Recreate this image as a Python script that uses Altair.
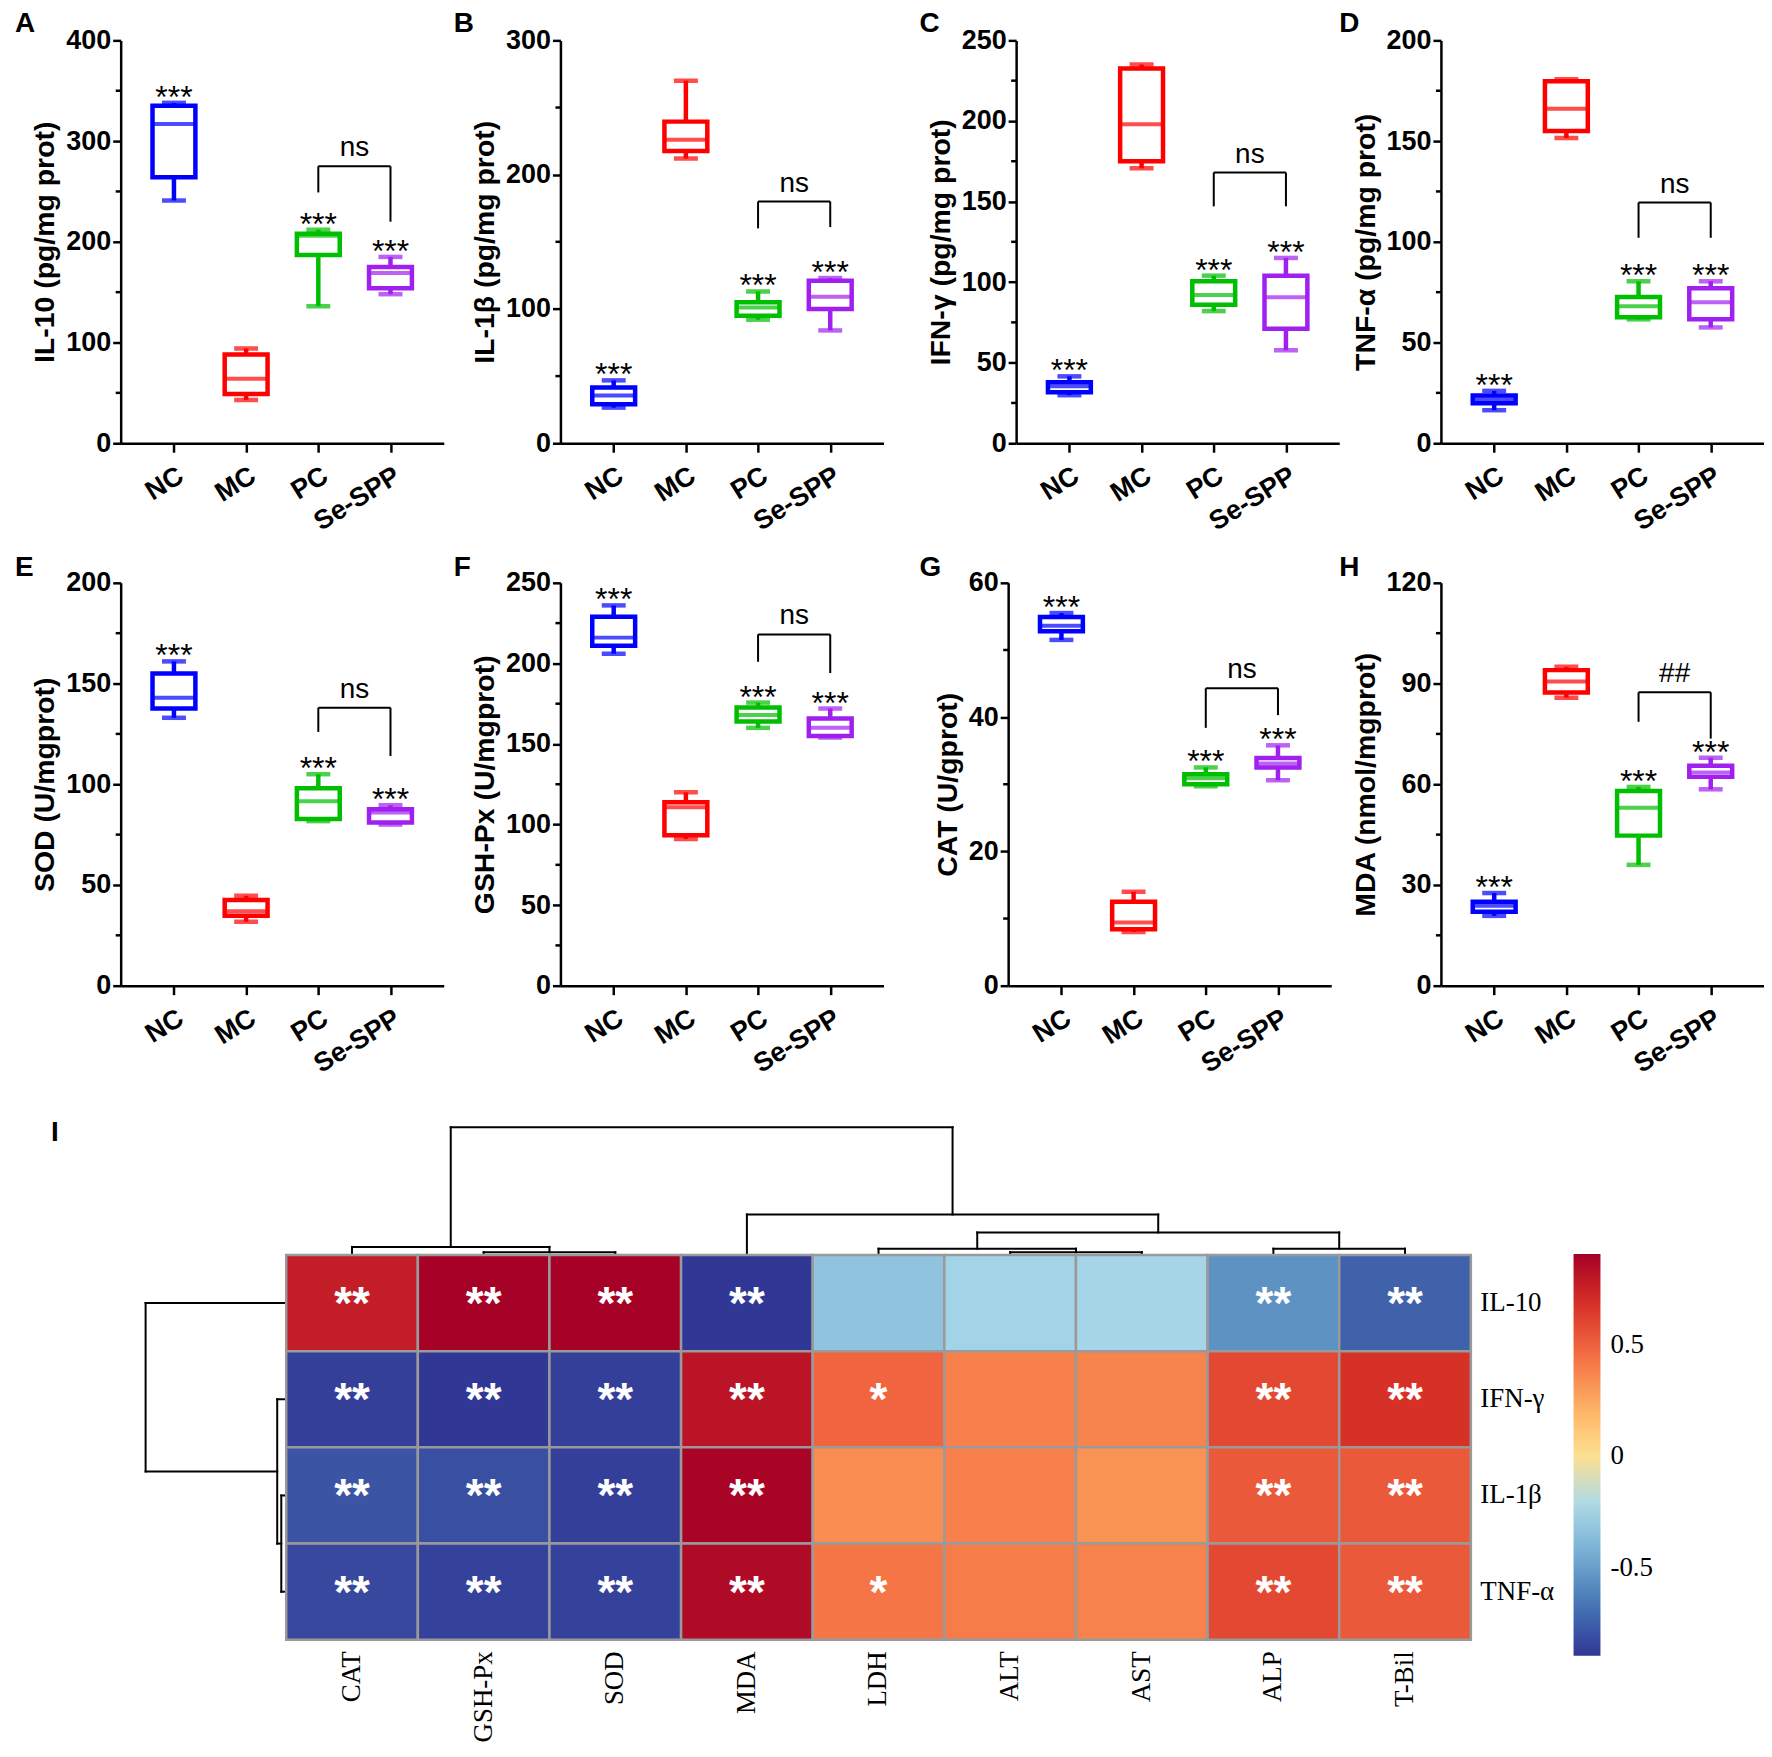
import altair as alt
import pandas as pd

# ---------------- data ----------------
GROUPS = ["NC", "MC", "PC", "Se-SPP"]
GROUP_COLORS = ["#0000FF", "#FF0000", "#00BE00", "#A020F0"]
GROUP_STARS = ["***", "", "***", "***"]

# five-number summaries per group (NC, MC, PC, Se-SPP): [min, q1, median, q3, max]
IL10 = [[241, 264, 317, 335, 338], [43, 49, 64, 88, 94], [136, 187, 206, 208, 212], [148, 154, 169, 175, 185]]
IL1B = [[26.5, 29, 35.6, 41.5, 46.8], [212, 217.6, 226, 239.5, 270], [92, 95, 101, 105, 113], [84, 100, 109, 121, 123]]
IFNG = [[29.8, 31.6, 35.3, 37.8, 41.5], [170.6, 175, 198, 232.6, 235], [82, 86, 92, 100.5, 104], [57.7, 71, 90.6, 104, 115]]
TNFA = [[16.4, 19.8, 21.8, 23.7, 26], [151.5, 155, 166, 179.7, 180.7], [61.5, 62.6, 68, 72.6, 80.4], [57.5, 61.5, 70, 77, 80.4]]
SOD = [[133, 137.6, 143, 155, 161], [31.7, 34.7, 37, 42.6, 44.6], [81.7, 82.7, 91.6, 98, 105], [80, 81, 86, 87.6, 89.6]]
GSHPX = [[206, 211, 216, 229, 236], [91, 93.4, 110.8, 113.9, 120], [160, 164, 168, 172.6, 175.7], [154, 155, 160, 165.8, 172]]
CAT = [[51.5, 52.8, 53.6, 54.9, 55.5], [8, 8.4, 9.4, 12.5, 14], [29.7, 30, 30.9, 31.5, 32.5], [30.6, 32.5, 33.1, 33.9, 35.8]]
MDA = [[20.8, 22, 23.8, 25, 27.6], [85.8, 87.3, 90.6, 94, 95], [36, 44.7, 53, 58, 59.2], [58.5, 62.2, 63.5, 65.5, 67.9]]

# PC vs Se-SPP bracket: [top, left leg end, right leg end]
IL10_BR = [275, 249, 220]
IL1B_BR = [180, 160, 161]
IFNG_BR = [168, 147, 147]
TNFA_BR = [119.5, 102, 102]
SOD_BR = [138, 126, 114]
GSHPX_BR = [218, 201, 194]
CAT_BR = [44.3, 38.4, 40.3]
MDA_BR = [87.4, 78.6, 73.6]

# heatmap (correlation)
HM_COLS = ["CAT", "GSH-Px", "SOD", "MDA", "LDH", "ALT", "AST", "ALP", "T-Bil"]
HM_ROWS = ["IL-10", "IFN-γ", "IL-1β", "TNF-α"]
R_IL10 = [0.77, 0.90, 0.90, -0.89, -0.33, -0.25, -0.24, -0.55, -0.735]
R_IFNG = [-0.86, -0.89, -0.86, 0.81, 0.49, 0.39, 0.38, 0.59, 0.68]
R_IL1B = [-0.785, -0.80, -0.86, 0.89, 0.35, 0.39, 0.325, 0.53, 0.53]
R_TNFA = [-0.83, -0.85, -0.85, 0.86, 0.43, 0.40, 0.385, 0.59, 0.53]
S_IL10 = ["**", "**", "**", "**", "", "", "", "**", "**"]
S_IFNG = ["**", "**", "**", "**", "*", "", "", "**", "**"]
S_IL1B = ["**", "**", "**", "**", "", "", "", "**", "**"]
S_TNFA = ["**", "**", "**", "**", "*", "", "", "**", "**"]

# colour bar
CB_DOMAIN = [-0.893, -0.668, -0.443, -0.218, 0.006, 0.231, 0.456, 0.681, 0.906]
CB_COLORS = ["#313695", "#4575b4", "#74add1", "#abd9e9", "#fee090", "#fdae61", "#f46d43", "#d73027", "#a50026"]
CB_TICKS = [-0.5, 0, 0.5]

# dendrograms: [left, right, merge height]
TOP_TREE = [["CAT", ["GSH-Px", "SOD", 0.021], 0.063],
            ["MDA", [["LDH", ["ALT", "AST", 0.021], 0.049], ["ALP", "T-Bil", 0.049], 0.176], 0.317], 1.0]
LEFT_TREE = ["IL-10", ["IFN-γ", ["IL-1β", "TNF-α", 0.035], 0.064], 1.0]

SANS = "Liberation Sans"
SERIF = "Liberation Serif"
W, H = 324, 404


def box_panel(letter, letter_dx, letter_dy, ytitle, stats, ymax, major, minor, bracket, sig):
    n = len(GROUPS)
    df = pd.DataFrame({
        "i": list(range(n)),
        "lo": [s[0] for s in stats],
        "q1": [s[1] for s in stats],
        "med": [s[2] for s in stats],
        "q3": [s[3] for s in stats],
        "hi": [s[4] for s in stats],
        "color": GROUP_COLORS,
        "star": GROUP_STARS,
    })
    label_expr = "[" + ",".join("'%s'" % g for g in GROUPS) + "][datum.value]"
    X = alt.X("i:Q",
              scale=alt.Scale(domain=[-0.669, n - 1 + 0.669], nice=False, zero=False),
              axis=alt.Axis(values=list(range(n)), labelExpr=label_expr, title=None, grid=False,
                            labelAngle=328, labelAlign="right", labelBaseline="top", labelPadding=10,
                            labelOverlap=False, labelBound=False,
                            labelFont=SANS, labelFontSize=27, labelFontWeight="bold", labelColor="black",
                            tickSize=9, tickWidth=2.5, tickColor="black",
                            domainWidth=2.5, domainColor="black"))
    yscale = alt.Scale(domain=[0, ymax], nice=False, zero=True)
    majors = list(range(0, ymax + 1, major))
    minors = [v for v in range(minor, ymax, minor) if v % major != 0]
    yaxis = alt.Axis(values=majors, title=ytitle, grid=False,
                     titleFont=SANS, titleFontSize=28.5, titleFontWeight="bold", titleColor="black",
                     titlePadding=6, labelOverlap=False,
                     labelFont=SANS, labelFontSize=27, labelFontWeight="bold", labelColor="black",
                     labelPadding=2, tickSize=8, tickWidth=2.5, tickColor="black",
                     domainWidth=2.5, domainColor="black")

    def Y(field):
        return alt.Y(field + ":Q", scale=yscale, axis=yaxis)

    stroke = alt.Stroke("color:N", scale=None)
    fill = alt.Fill("color:N", scale=None)
    base = alt.Chart(df)
    w_hi = base.mark_rule(strokeWidth=4.5).encode(x=X, y=Y("q3"), y2="hi:Q", stroke=stroke)
    w_lo = base.mark_rule(strokeWidth=4.5).encode(x=X, y=Y("lo"), y2="q1:Q", stroke=stroke)
    box = base.mark_bar(size=43, strokeWidth=4.5, fill="white").encode(x=X, y=Y("q1"), y2="q3:Q", stroke=stroke)
    med = base.mark_tick(orient="horizontal", size=43, thickness=4).encode(x=X, y=Y("med"), fill=fill)
    cap_hi = base.mark_tick(orient="horizontal", size=24, thickness=4.5).encode(x=X, y=Y("hi"), fill=fill)
    cap_lo = base.mark_tick(orient="horizontal", size=24, thickness=4.5).encode(x=X, y=Y("lo"), fill=fill)
    stars = base.mark_text(font=SANS, fontSize=32, baseline="alphabetic", dy=5, color="black").encode(
        x=X, y=Y("hi"), text="star:N")

    top, left_leg, right_leg = bracket
    br_h = alt.Chart(pd.DataFrame({"i": [2], "i2": [3], "top": [top]})).mark_rule(
        strokeWidth=2, color="black").encode(x=X, x2="i2:Q", y=Y("top"))
    br_v = alt.Chart(pd.DataFrame({"i": [2, 3], "leg": [left_leg, right_leg], "top": [top, top]})).mark_rule(
        strokeWidth=2, color="black").encode(x=X, y=Y("leg"), y2="top:Q")
    br_t = alt.Chart(pd.DataFrame({"i": [2.5], "top": [top], "t": [sig]})).mark_text(
        font=SANS, fontSize=28, baseline="alphabetic", dy=-10, color="black").encode(
        x=X, y=Y("top"), text="t:N")
    mtick = alt.Chart(pd.DataFrame({"v": minors})).mark_rule(strokeWidth=2.5, color="black").encode(
        y=Y("v"), x=alt.value(-5), x2=alt.value(0))
    lab = alt.Chart(pd.DataFrame({"t": [letter]})).mark_text(
        font=SANS, fontSize=28, fontWeight="bold", align="left", baseline="alphabetic", color="black").encode(
        x=alt.value(letter_dx), y=alt.value(letter_dy), text="t:N")

    return alt.layer(w_hi, w_lo, box, med, cap_hi, cap_lo, stars, br_h, br_v, br_t, mtick, lab).properties(
        width=W, height=H)


def spacer(w, h):
    return alt.Chart(pd.DataFrame({"v": [0]})).mark_point(opacity=0).encode(
        x=alt.value(0), y=alt.value(0)).properties(width=w, height=h)


A = box_panel("A", -106, -8, "IL-10 (pg/mg prot)", IL10, 400, 100, 50, IL10_BR, "ns")
B = box_panel("B", -107, -8, "IL-1β (pg/mg prot)", IL1B, 300, 100, 50, IL1B_BR, "ns")
C = box_panel("C", -97, -8, "IFN-γ (pg/mg prot)", IFNG, 250, 50, 25, IFNG_BR, "ns")
D = box_panel("D", -102, -8, "TNF-α (pg/mg prot)", TNFA, 200, 50, 25, TNFA_BR, "ns")
E = box_panel("E", -106, -7, "SOD (U/mgprot)", SOD, 200, 50, 25, SOD_BR, "ns")
F = box_panel("F", -107, -7, "GSH-Px (U/mgprot)", GSHPX, 250, 50, 25, GSHPX_BR, "ns")
G = box_panel("G", -89, -7, "CAT (U/gprot)", CAT, 60, 20, 10, CAT_BR, "ns")
Hh = box_panel("H", -102, -7, "MDA (nmol/mgprot)", MDA, 120, 30, 15, MDA_BR, "##")

row1 = alt.hconcat(A, spacer(117, H), B, spacer(133, H), C, spacer(102, H), D, spacing=0, bounds="flush")
row2 = alt.hconcat(E, spacer(117, H), F, spacer(125, H), G, spacer(110, H), Hh, spacing=0, bounds="flush")


# ---------------- heatmap section ----------------
def dendro_segments(tree, order):
    segs = []

    def walk(node):
        if isinstance(node, str):
            return order.index(node) + 0.5, 0.0
        l, r, h = node
        pl, hl = walk(l)
        pr, hr = walk(r)
        segs.append({"p1": pl, "p2": pr, "h1": h, "h2": h})
        segs.append({"p1": pl, "p2": pl, "h1": hl, "h2": h})
        segs.append({"p1": pr, "p2": pr, "h1": hr, "h2": h})
        return (pl + pr) / 2.0, h

    walk(tree)
    return pd.DataFrame(segs)


HM_W, HM_H = 1188, 386
LEFT_W, TOP_H = 166, 128

top_df = dendro_segments(TOP_TREE, HM_COLS)
top_d = alt.Chart(top_df).mark_rule(strokeWidth=2, color="black", strokeCap="square").encode(
    x=alt.X("p1:Q", scale=alt.Scale(domain=[0, len(HM_COLS)], nice=False, zero=False), axis=None),
    x2="p2:Q",
    y=alt.Y("h1:Q", scale=alt.Scale(domain=[0, 1.0], nice=False), axis=None),
    y2="h2:Q",
).properties(width=HM_W, height=TOP_H)

left_df = dendro_segments(LEFT_TREE, HM_ROWS)
left_d = alt.Chart(left_df).mark_rule(strokeWidth=2, color="black", strokeCap="square").encode(
    y=alt.Y("p1:Q", scale=alt.Scale(domain=[0, len(HM_ROWS)], nice=False, zero=False, reverse=True), axis=None),
    y2="p2:Q",
    x=alt.X("h1:Q", scale=alt.Scale(domain=[0, 1.0 * LEFT_W / 141.0], nice=False, reverse=True), axis=None),
    x2="h2:Q",
).properties(width=LEFT_W, height=HM_H)

blank = alt.Chart(pd.DataFrame({"t": ["I"]})).mark_text(
    font=SANS, fontSize=28, fontWeight="bold", align="left", baseline="alphabetic", color="black").encode(
    x=alt.value(-70), y=alt.value(14), text="t:N").properties(width=LEFT_W, height=TOP_H)

hm_rows = []
for rname, vals, sigs in zip(HM_ROWS, [R_IL10, R_IFNG, R_IL1B, R_TNFA], [S_IL10, S_IFNG, S_IL1B, S_TNFA]):
    for cname, v, s in zip(HM_COLS, vals, sigs):
        hm_rows.append({"row": rname, "col": cname, "r": v, "sig": s})
hm_df = pd.DataFrame(hm_rows)

HX = alt.X("col:N", sort=HM_COLS, scale=alt.Scale(paddingInner=0, paddingOuter=0),
           axis=alt.Axis(orient="bottom", title=None, ticks=False, domain=False, labelAngle=270,
                         labelFont=SERIF, labelFontSize=27, labelColor="black", labelPadding=11))
HY = alt.Y("row:N", sort=HM_ROWS, scale=alt.Scale(paddingInner=0, paddingOuter=0),
           axis=alt.Axis(orient="right", title=None, ticks=False, domain=False,
                         labelFont=SERIF, labelFontSize=27, labelColor="black", labelPadding=9))
cells = alt.Chart(hm_df).mark_rect(stroke="#9a9a9a", strokeWidth=2.5).encode(
    x=HX, y=HY,
    color=alt.Color("r:Q",
                    scale=alt.Scale(domain=CB_DOMAIN, range=CB_COLORS, interpolate="rgb"),
                    legend=alt.Legend(orient="none", legendX=1291, legendY=-1, direction="vertical",
                                      gradientLength=403, gradientThickness=27, title=None,
                                      values=CB_TICKS, gradientStrokeWidth=0, labelOverlap=False,
                                      labelFont=SERIF, labelFontSize=27, labelColor="black",
                                      labelOffset=10, padding=0,
                                      labelExpr="datum.value < 0 ? '-' + format(-datum.value, '.1f') : (datum.value == 0 ? '0' : format(datum.value, '.1f'))")))
cell_txt = alt.Chart(hm_df).mark_text(font=SANS, fontSize=46, fontWeight="bold", color="white",
                                      baseline="alphabetic", dy=16).encode(x=HX, y=HY, text="sig:N")
heat = alt.layer(cells, cell_txt).properties(width=HM_W, height=HM_H)

section = alt.concat(blank, top_d, left_d, heat, columns=2, spacing=0, bounds="flush").resolve_scale(
    color="independent").resolve_legend(color="independent")

upper = alt.vconcat(row1, row2, spacing=19)
chart = alt.vconcat(upper, section, spacing=42).resolve_scale(color="independent").resolve_legend(
    color="independent").properties(
    padding={"left": 7, "top": 0, "right": 0, "bottom": 0}, background="white"
).configure_view(strokeWidth=0, stroke=None)

chart.save("out.html", embed_options={"renderer": "svg", "actions": False})
